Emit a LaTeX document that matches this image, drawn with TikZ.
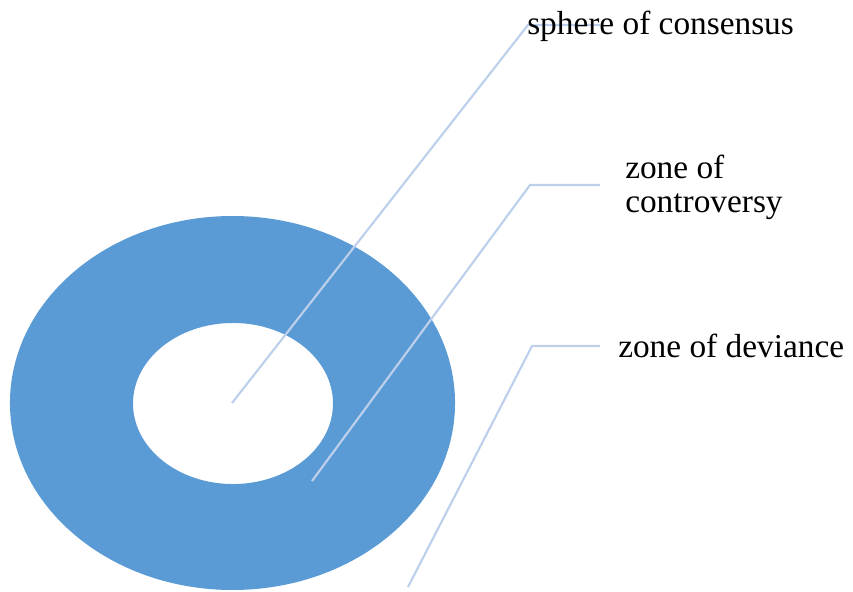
\documentclass[tikz,border=0pt]{standalone}
\usepackage{fontspec}
\setmainfont{Liberation Serif}
\usetikzlibrary{positioning}
\definecolor{ringblue}{HTML}{5B9BD5}
\definecolor{leaderblue}{HTML}{BCD0EC}
\tikzset{
x=0.75pt, y=-0.75pt, % one unit is one pixel of the reference
ring/.style={fill=ringblue, draw=none, even odd rule}, % the blue donut
leader/.style={draw=leaderblue, line width=1.6pt}, % the label lines
label/.style={inner sep=0pt, anchor=base west, align=left, font=\fontsize{25}{25.5}\selectfont}, % the texts
}
\begin{document}
\begin{tikzpicture}
        \useasboundingbox (0,0) rectangle (853,592);

        \path[ring] (232.5,403) ellipse [x radius=166.9pt, y radius=140.25pt]
                    (233,403.5) ellipse [x radius=75pt, y radius=60.4pt];

        \coordinate (c1) at (232,403);
        \coordinate (c2) at (312,481);
        \coordinate (c3) at (408,587);
        \coordinate (k1) at (528,25);
        \coordinate (k2) at (530,185);
        \coordinate (k3) at (532,346);
        \coordinate (t1) at (600,25);
        \coordinate (t2) at (600,185);
        \coordinate (t3) at (600,346);

        \draw[leader] (c1) -- (k1) -- (t1);
        \draw[leader] (c2) -- (k2) -- (t2);
        \draw[leader] (c3) -- (k3) -- (t3);

        \node[label] (consensus) at (527,35) {sphere of consensus};
        \node[label] (controversy) at (625,212) {zone of\\controversy};
        \node[label] (deviance) at (618,357) {zone of deviance};
\end{tikzpicture}
\end{document}
